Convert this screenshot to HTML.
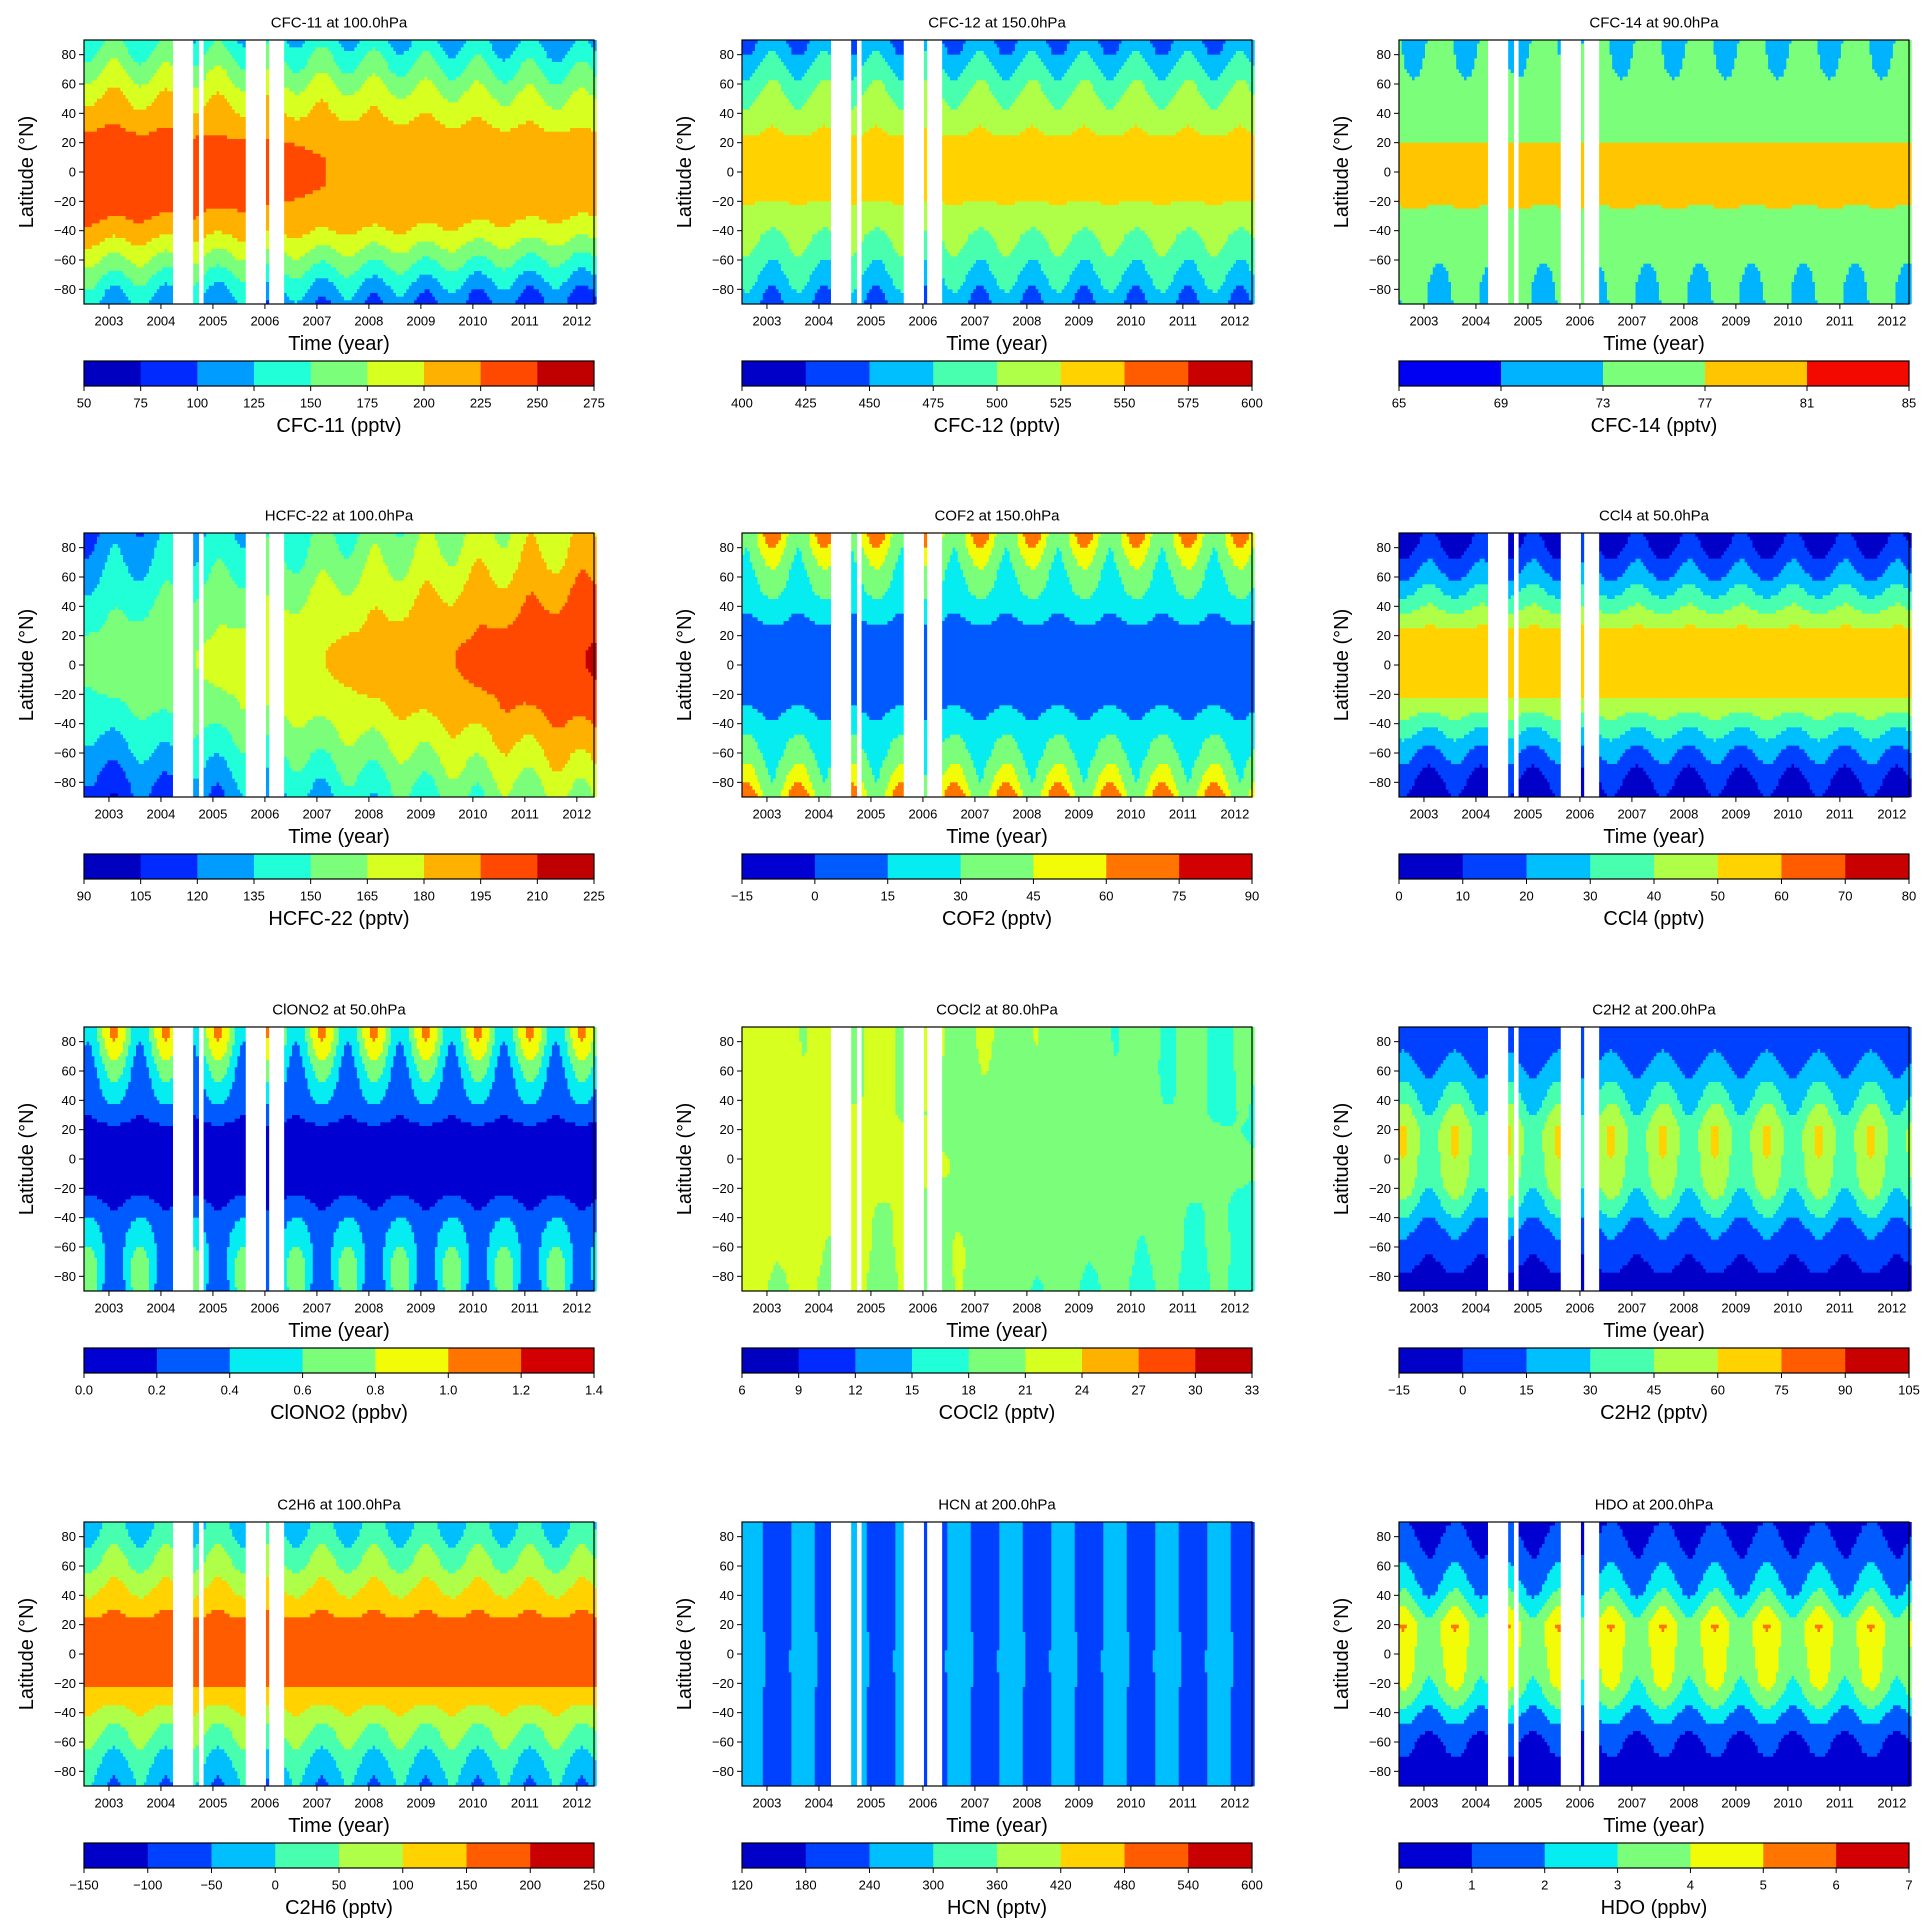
<!DOCTYPE html>
<html><head><meta charset="utf-8">
<style>
html,body{margin:0;padding:0;background:#fff;}
svg{display:block;font-family:"Liberation Sans",sans-serif;}
</style></head>
<body>
<svg id="fig" width="1930" height="1930" viewBox="0 0 1930 1930" xmlns="http://www.w3.org/2000/svg"></svg>
<script>
// ---- data arrays ----
const latNodes = [-90,-80,-70,-60,-50,-40,-30,-20,-10,0,10,20,30,40,50,60,70,80,90];
const yearTicks = [2003,2004,2005,2006,2007,2008,2009,2010,2011,2012];
const latTicks = [-80,-60,-40,-20,0,20,40,60,80];
const gapStarts = [2004.21,2004.71,2005.64,2006.09];
const gapEnds = [2004.64,2004.83,2006.02,2006.38];
const titles = ["CFC-11 at 100.0hPa","CFC-12 at 150.0hPa","CFC-14 at 90.0hPa","HCFC-22 at 100.0hPa","COF2 at 150.0hPa","CCl4 at 50.0hPa","ClONO2 at 50.0hPa","COCl2 at 80.0hPa","C2H2 at 200.0hPa","C2H6 at 100.0hPa","HCN at 200.0hPa","HDO at 200.0hPa"];
const cbLabels = ["CFC-11 (pptv)","CFC-12 (pptv)","CFC-14 (pptv)","HCFC-22 (pptv)","COF2 (pptv)","CCl4 (pptv)","ClONO2 (ppbv)","COCl2 (pptv)","C2H2 (pptv)","C2H6 (pptv)","HCN (pptv)","HDO (ppbv)"];
const levelStart = [50,400,65,90,-15,0,0,6,-15,-150,120,0];
const levelStep = [25,25,4,15,15,10,0.2,3,15,50,60,1];
const levelCount = [9,8,5,9,7,8,7,9,8,8,8,7];
const trend = [-3,0,0,6,0,0,0,-0.5,0,0,0,0];
const phase = [0.1,0.1,0.3,0.1,0.1,0.1,0.1,0.2,0.6,0.1,0.7,0.6];
const meanCFC11 = [106,121,141,161,181,201,215,222,224,224,224,222,211,198,188,173,158,143,128];
const ampCFC11 = [-15,-15,-12,-10,-8,-6,-3,0,0,0,0,0,4,7,10,12,14,15,15];
const meanCFC12 = [452,462,476,486,496,506,516,526,531,533,533,531,521,511,503,492,478,463,452];
const ampCFC12 = [-15,-15,-12,-12,-10,-8,-5,0,0,0,0,0,5,8,10,12,14,15,15];
const meanCFC14 = [73,73.2,73.5,74,74.5,75.5,76.5,77.3,77.6,77.6,77.4,77,76,75,74.5,74,73.6,73.3,73];
const ampCFC14 = [-1.2,-1.2,-1,-0.8,-0.6,-0.5,-0.3,0,0,0,0,0,0.3,0.5,0.6,0.8,1,1.2,1.2];
const meanHCFC22 = [138,143,150,156,162,168,174,178,181,182,182,180,176,172,168,163,158,154,150];
const ampHCFC22 = [-8,-8,-7,-6,-5,-4,-3,0,0,0,0,0,3,4,5,6,7,8,8];
const meanCOF2 = [55,45,38,32,26,20,14,9,6,5,6,9,15,22,28,33,38,45,52];
const ampCOF2 = [-20,-15,-10,-8,-6,-4,-3,0,0,0,0,0,3,4,6,8,10,15,20];
const meanCCl4 = [5,9,14,20,27,35,44,52,55,56,56,54,46,38,30,22,16,10,6];
const ampCCl4 = [-5,-5,-5,-4,-4,-3,-2,0,0,0,0,0,2,3,4,4,5,5,5];
const meanClONO2 = [0.45,0.5,0.5,0.45,0.4,0.32,0.22,0.12,0.08,0.07,0.08,0.15,0.25,0.35,0.42,0.5,0.6,0.7,0.75];
const ampClONO2 = [-0.25,-0.25,-0.2,-0.15,-0.12,-0.08,-0.05,0,0,0,0,0,0.05,0.1,0.15,0.2,0.25,0.3,0.3];
const meanCOCl2 = [19.3,19.6,19.9,20,20,20,20.1,20.3,20.5,20.5,20.4,20.3,20.1,20,20,20,20.1,20.2,20.2];
const ampCOCl2 = [-1.5,-1.2,-1,-0.8,-0.6,-0.4,-0.3,0,0,0,0,0,0.3,0.5,0.7,0.9,1,1.2,1.2];
const meanC2H2 = [-10,-4,2,7,12,22,32,42,46,48,50,50,42,33,25,18,12,8,6];
const ampC2H2 = [3,3,4,5,6,8,10,12,12,12,12,12,12,10,8,6,5,4,3];
const meanC2H6 = [-30,-15,10,35,60,90,125,155,165,168,170,165,140,110,85,60,35,10,-10];
const ampC2H6 = [-30,-30,-28,-25,-20,-15,-10,0,0,0,0,0,10,15,20,25,28,30,30];
const meanHCN = [235,235,235,235,235,235,235,240,242,242,240,238,235,235,235,235,235,235,235];
const ampHCN = [20,20,20,22,25,28,35,45,45,42,38,30,25,22,20,20,20,20,20];
const meanHDO = [0.5,0.6,0.8,1.0,1.5,2.2,3.0,3.6,3.8,3.9,4.1,4.2,3.4,2.6,2.0,1.6,1.3,1.0,0.8];
const ampHDO = [0.1,0.1,0.2,0.3,0.4,0.5,0.6,0.7,0.7,0.7,0.8,0.9,0.8,0.7,0.6,0.5,0.4,0.3,0.2];
const means = [meanCFC11,meanCFC12,meanCFC14,meanHCFC22,meanCOF2,meanCCl4,meanClONO2,meanCOCl2,meanC2H2,meanC2H6,meanHCN,meanHDO];
const amps = [ampCFC11,ampCFC12,ampCFC14,ampHCFC22,ampCOF2,ampCCl4,ampClONO2,ampCOCl2,ampC2H2,ampC2H6,ampHCN,ampHDO];

// ---- layout ----
const NS="http://www.w3.org/2000/svg";
const svg=document.getElementById('fig');
const colX=[84,742,1399], rowY=[40,533,1027,1522], W=510, H=264;
const T0=2002.52, T1=2012.33;
function jetc(x){
  function seg(pts){for(let i=1;i<pts.length;i++){if(x<=pts[i][0]){const a=pts[i-1],b=pts[i];return a[1]+(b[1]-a[1])*(x-a[0])/(b[0]-a[0]);}}return pts[pts.length-1][1];}
  const r=seg([[0,0],[0.35,0],[0.66,1],[0.89,1],[1,0.5]]);
  const g=seg([[0,0],[0.125,0],[0.375,1],[0.64,1],[0.91,0],[1,0]]);
  const b=seg([[0,0.5],[0.11,1],[0.34,1],[0.65,0],[1,0]]);
  return 'rgb('+Math.round(r*255)+','+Math.round(g*255)+','+Math.round(b*255)+')';
}
function mk(tag,attrs,parent){const e=document.createElementNS(NS,tag);for(const k in attrs)e.setAttribute(k,attrs[k]);(parent||svg).appendChild(e);return e;}
function txt(s,x,y,size,anchor,parent,extra){const e=mk('text',Object.assign({x:x,y:y,'font-size':size,'text-anchor':anchor||'middle','dominant-baseline':'central',fill:'#000'},extra||{}),parent);e.textContent=s;return e;}
function fmt(v,step){const d=step<1?1:0;let s=v.toFixed(d);if(Math.abs(v)<1e-9)s=(0).toFixed(d);return s.replace('-','\u2212');}
function interp(arr,lat){const f=(lat+90)/10;const i=Math.min(17,Math.max(0,Math.floor(f)));const u=f-i;return arr[i]*(1-u)+arr[i+1]*u;}

for(let p=0;p<12;p++){
  const x0=colX[p%3], y0=rowY[Math.floor(p/3)];
  const g=mk('g',{});
  
  
  const xs=t=>x0+(t-T0)/(T1-T0)*W;
  const ys=l=>y0+(90-l)/180*H;
  const n=levelCount[p], v0=levelStart[p], st=levelStep[p];
  const colors=[];for(let i=0;i<n;i++)colors.push(jetc((i+0.5)/n));
  const lvl=v=>Math.max(0,Math.min(n-1,Math.floor((v-v0)/st)));
  const t1=txt(titles[p],x0+W/2,y0-17,15,'middle',g);
  
  
  const field=mk('g',{},g);
  
  
  const dt=0.05, dl=2.5;
  for(let t=T0;t<T1;t+=dt){
    const tc=t+dt/2;
    let gap=false;for(let k=0;k<gapStarts.length;k++)if(tc>gapStarts[k]&&tc<gapEnds[k])gap=true;
    if(gap)continue;
    let runStart=90, runLvl=null;
    for(let l=90;l>=-90-1e-9;l-=dl){
      let cur=null;
      if(l>-90+1e-9){const lc=l-dl/2;
        const v=interp(means[p],lc)+trend[p]*(tc-2007.5)+interp(amps[p],lc)*Math.cos(2*Math.PI*(tc-phase[p]));
        cur=lvl(v);}
      if(cur!==runLvl){
        if(runLvl!==null){const r=mk('rect',{x:xs(t).toFixed(2),y:ys(runStart).toFixed(2),width:(xs(t+dt)-xs(t)+0.6).toFixed(2),height:(ys(l)-ys(runStart)+0.3).toFixed(2),fill:colors[runLvl]},field);
          
          }
        runStart=l;runLvl=cur;
      }
    }
  }
  const fr=mk('rect',{x:x0,y:y0,width:W,height:H,fill:'none',stroke:'#000','stroke-width':1.2},g);
  
  
  yearTicks.forEach(yr=>{const x=xs(yr);mk('line',{x1:x,x2:x,y1:y0+H,y2:y0+H+5,stroke:'#000'},g);
    const e=txt(String(yr),x,y0+H+17,13,'middle',g);
    
    });
  latTicks.forEach(l=>{const y=ys(l);mk('line',{x1:x0-5,x2:x0,y1:y,y2:y,stroke:'#000'},g);
    const e=txt(fmt(l,1),x0-8,y,13,'end',g);
    
    });
  const xl=txt('Time (year)',x0+W/2,y0+H+40,20,'middle',g);
  
  
  const yl=txt('Latitude (\u00b0N)',0,0,20,'middle',g,{transform:'translate('+(x0-57)+','+(y0+H/2)+') rotate(-90)'});
  
  
  // colorbar
  const cy=y0+321, ch=25, cw=W/n;
  const cb=mk('g',{},g);
  
  
  for(let i=0;i<n;i++){const r=mk('rect',{x:x0+i*cw,y:cy,width:cw+0.5,height:ch,fill:colors[i]},cb);
    
    }
  mk('rect',{x:x0,y:cy,width:W,height:ch,fill:'none',stroke:'#000','stroke-width':1.2},cb);
  for(let i=0;i<=n;i++){const x=x0+i*cw;mk('line',{x1:x,x2:x,y1:cy+ch,y2:cy+ch+5,stroke:'#000'},cb);
    const e=txt(fmt(v0+i*st,st),x,cy+ch+17,13,'middle',cb);
    
    }
  const cl=txt(cbLabels[p],x0+W/2,y0+386,20,'middle',g);
  
  
}
</script>
</body></html>
